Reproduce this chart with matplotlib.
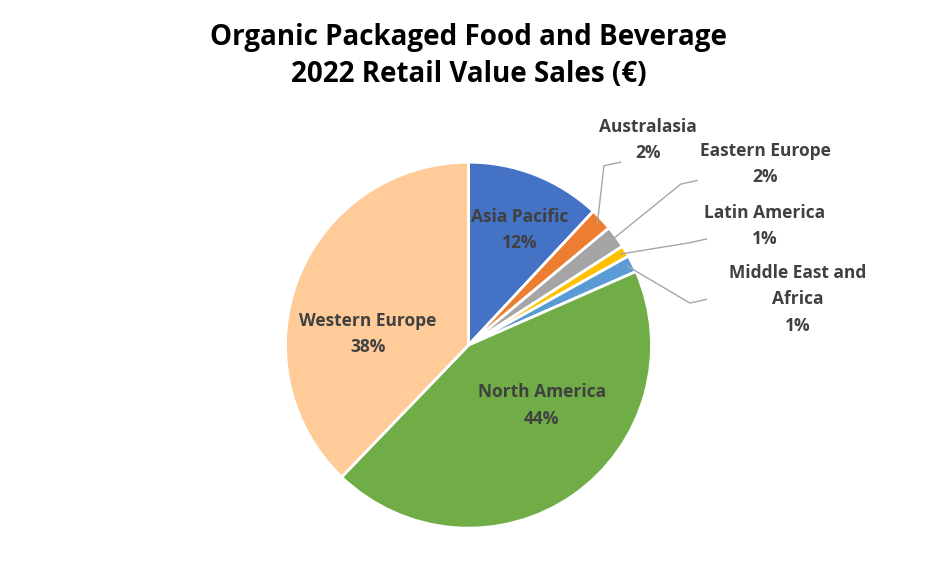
import matplotlib.pyplot as plt
import numpy as np

# Regional share of organic packaged food & beverage sales, 2022
regions = ['Asia Pacific', 'Australasia', 'Eastern Europe', 'Latin America',
           'Middle East and\nAfrica', 'North America', 'Western Europe']
shares = [12, 2, 2, 1, 1.5, 44, 38]
pct_labels = ['12%', '2%', '2%', '1%', '1%', '44%', '38%']
colors = ['#4472C4', '#ED7D31', '#A5A5A5', '#FFC000', '#5B9BD5', '#70AD47', '#FFCC99']

fig = plt.figure(figsize=(9.37, 5.86), dpi=100)
ax = fig.add_axes([0.5 - 183 / 937, 0.411 - 0.3125, 366 / 937, 0.625])

wedges, _ = ax.pie(shares, colors=colors, startangle=90, counterclock=False,
                   wedgeprops=dict(edgecolor='white', linewidth=2))
ax.set_xlim(-1, 1)
ax.set_ylim(-1, 1)
ax.set_aspect('equal')

txt = dict(color='#404040', fontsize=12.5, fontweight='bold', ha='center',
           va='center', family='Open Sans')

# labels inside the big slices
inside = {0: (0.28, 0.63), 5: (0.40, -0.33), 6: (-0.55, 0.06)}
for i, (x, y) in inside.items():
    ax.text(x, y, f'{regions[i]}\n{pct_labels[i]}', linespacing=1.6, **txt)

# labels outside the small slices, with leader lines
outside = {1: (0.98, 1.12, 0.83, 1.00), 2: (1.62, 0.99, 1.25, 0.90),
           3: (1.62, 0.65, 1.30, 0.58), 4: (1.80, 0.25, 1.30, 0.25)}
for i, (tx, ty, ex, ey) in outside.items():
    w = wedges[i]
    a = np.deg2rad((w.theta1 + w.theta2) / 2)
    sx, sy = 0.97 * np.cos(a), 0.97 * np.sin(a)
    mx, my = ex - 0.04, ey - 0.02
    ax.plot([sx, mx - 0.05, ex], [sy, my, ey] if i != 1 else [sy, my, ey],
            color='#A6A6A6', lw=1, clip_on=False)
    ax.text(tx, ty, f'{regions[i]}\n{pct_labels[i]}', linespacing=1.6, **txt)

fig.text(0.5, 0.905, 'Organic Packaged Food and Beverage\n2022 Retail Value Sales (€)',
         ha='center', va='center', fontsize=20, fontweight='bold',
         family='Open Sans', linespacing=1.35)

fig.savefig('out.png', dpi=100)
